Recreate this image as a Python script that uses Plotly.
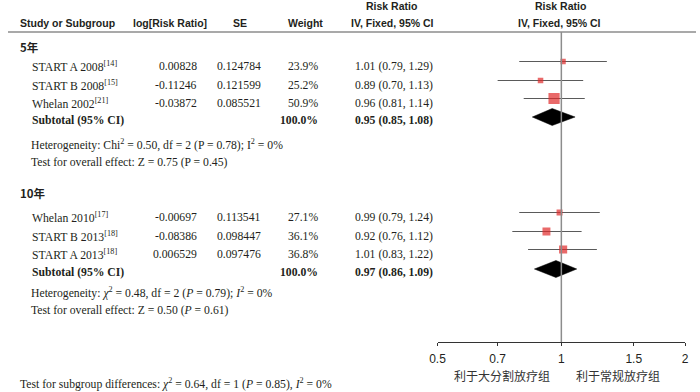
import plotly.graph_objects as go
import math

# ---------------- data ----------------
groups = ["5年", "10年"]
studies = ["START A 2008", "START B 2008", "Whelan 2002",
           "Whelan 2010", "START B 2013", "START A 2013"]
refs = ["14", "15", "21", "17", "18", "18"]
log_rr = ["0.00828", "-0.11246", "-0.03872", "-0.00697", "-0.08386", "0.006529"]
se = ["0.124784", "0.121599", "0.085521", "0.113541", "0.098447", "0.097476"]
weight = [23.9, 25.2, 50.9, 27.1, 36.1, 36.8]
rr = [1.01, 0.89, 0.96, 0.99, 0.92, 1.01]
rr_lo = [0.79, 0.70, 0.81, 0.79, 0.76, 0.83]
rr_hi = [1.29, 1.13, 1.14, 1.24, 1.12, 1.22]
sub_rr = [0.95, 0.97]
sub_lo = [0.85, 0.86]
sub_hi = [1.08, 1.09]
sub_weight = ["100.0%", "100.0%"]
heterogeneity = [
    "Heterogeneity: Chi<sup>2</sup> = 0.50, df = 2 (P = 0.78); I<sup>2</sup> = 0%",
    "Heterogeneity: <i>χ</i><sup>2</sup> = 0.48, df = 2 (<i>P</i> = 0.79); <i>I</i><sup>2</sup> = 0%",
]
overall = [
    "Test for overall effect: Z = 0.75 (P = 0.45)",
    "Test for overall effect: Z = 0.50 (<i>P</i> = 0.61)",
]
subgroup_test = ("Test for subgroup differences: <i>χ</i><sup>2</sup> = 0.64, df = 1 "
                 "(<i>P</i> = 0.85), <i>I</i><sup>2</sup> = 0%")
tick_vals = [0.5, 0.7, 1, 1.5, 2]
tick_text = ["0.5", "0.7", "1", "1.5", "2"]
favours = ["利于大分割放疗组", "利于常规放疗组"]

# ---------------- layout (row positions in px) ----------------
W, H = 700, 392
group_y = [47, 193]
study_y = [66, 85, 103, 217, 236, 254]
sub_y = [120, 272]
het_y = [144, 292]
ovr_y = [162, 310]
mark_shift = -4.5
axis_y = 342
header_line_y = 32

SERIF = "Liberation Serif"
SANS = "Liberation Sans"
TXT = "#231f20"

fig = go.Figure()

# CI lines
cx, cy = [], []
for lo, hi, y in zip(rr_lo, rr_hi, study_y):
    cx += [lo, hi, None]
    cy += [y + mark_shift] * 2 + [None]
fig.add_trace(go.Scatter(x=cx, y=cy, mode="lines",
                         line=dict(color="#5a5a5a", width=1), hoverinfo="skip"))

# squares
fig.add_trace(go.Scatter(
    x=rr, y=[y + mark_shift for y in study_y], mode="markers",
    marker=dict(symbol="square", color="#e02a2a", size=[w * 0.22 for w in weight],
                line=dict(width=0)),
    hoverinfo="skip"))

# diamonds
for r, lo, hi, y in zip(sub_rr, sub_lo, sub_hi, sub_y):
    yc = y + mark_shift + 1.5
    fig.add_trace(go.Scatter(x=[lo, r, hi, r, lo], y=[yc, yc - 8.5, yc, yc + 8.5, yc],
                             mode="lines", fill="toself", fillcolor="black",
                             line=dict(color="black", width=0.5), hoverinfo="skip"))

ann = []


def add(text, x, y, anchor="left", size=11.7, family=SERIF, bold=False, color=TXT):
    if bold:
        text = "<b>" + text + "</b>"
    ann.append(dict(text=text, x=x / W, y=y, xref="paper", yref="y",
                    xanchor=anchor, yanchor="middle", showarrow=False,
                    font=dict(family=family, size=size, color=color)))


# headers
hdr = dict(family=SANS, size=10.5, bold=True)
add("Study or Subgroup", 10, 23, **hdr)
add("log[Risk Ratio]", 165, 23, anchor="center", **hdr)
add("SE", 236, 23, anchor="center", **hdr)
add("Weight", 303, 23, anchor="center", **hdr)
add("Risk Ratio", 390, 6, anchor="center", **hdr)
add("IV, Fixed, 95% CI", 391, 23, anchor="center", **hdr)
add("Risk Ratio", 562, 6, anchor="center", **hdr)
add("IV, Fixed, 95% CI", 561, 23, anchor="center", **hdr)

for g, gy in enumerate(group_y):
    add(groups[g], 10, gy, family="Noto Sans CJK SC", size=11.5, bold=True)

for i, s in enumerate(studies):
    y = study_y[i]
    add(s + "<sup>[" + refs[i] + "]</sup>", 22, y)
    add(log_rr[i], 194, y, anchor="right")
    add(se[i], 259, y, anchor="right")
    add(f"{weight[i]:.1f}%", 317, y, anchor="right")
    add(f"{rr[i]:.2f} ({rr_lo[i]:.2f}, {rr_hi[i]:.2f})", 351, y)

for g in range(2):
    add("Subtotal (95% CI)", 22, sub_y[g], bold=True)
    add(sub_weight[g], 317, sub_y[g], anchor="right", bold=True)
    add(f"{sub_rr[g]:.2f} ({sub_lo[g]:.2f}, {sub_hi[g]:.2f})", 351, sub_y[g], bold=True)
    add(heterogeneity[g], 21, het_y[g])
    add(overall[g], 21, ovr_y[g])

add(subgroup_test, 10, 383)

# favours labels
add(favours[0], 503, 375, anchor="center", family="Noto Sans CJK SC", size=12, color="#333")
add(favours[1], 621, 375, anchor="center", family="Noto Sans CJK SC", size=12, color="#333")

shapes = [
    dict(type="line", xref="paper", yref="y", x0=0, x1=1,
         y0=header_line_y, y1=header_line_y, line=dict(color="#8c8c8c", width=1.5)),
    dict(type="line", xref="x", yref="y", x0=1, x1=1, y0=header_line_y, y1=axis_y,
         line=dict(color="#8c8c8c", width=1.5)),
]

xr = [math.log10(0.5), math.log10(2)]
dom = [437 / W, 689 / W]
pos = (H - axis_y) / H

fig.update_layout(
    width=W, height=H, margin=dict(l=0, r=0, t=0, b=0),
    paper_bgcolor="white", plot_bgcolor="white", showlegend=False,
    annotations=ann, shapes=shapes,
    xaxis=dict(type="log", range=xr, domain=dom, anchor="free", position=pos,
               showgrid=False, zeroline=False, showline=True, linecolor="#333",
               linewidth=1, ticks="outside", ticklen=3, tickcolor="#333",
               tickvals=tick_vals, ticktext=tick_text, ticklabelstandoff=3,
               tickfont=dict(family=SANS, size=12, color=TXT)),
    xaxis2=dict(type="log", range=xr, domain=dom, anchor="free", position=pos,
                overlaying="x", showgrid=False, zeroline=False, showline=False,
                ticks="inside", ticklen=4, tickcolor="#333", tickvals=tick_vals,
                showticklabels=False),
    yaxis=dict(range=[H, 0], domain=[0, 1], visible=False, showgrid=False,
               zeroline=False, fixedrange=True),
)

fig.write_html("out.html", config={"displayModeBar": False, "staticPlot": True},
               post_script="document.body.style.margin='0';document.body.style.overflow='hidden';")
